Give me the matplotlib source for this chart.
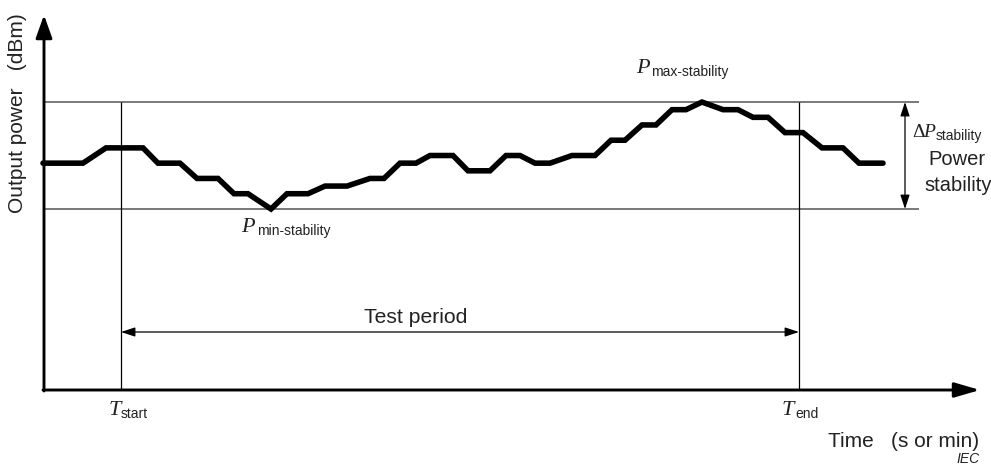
import matplotlib
matplotlib.use("Agg")
import matplotlib.pyplot as plt
import matplotlib.transforms as mtransforms

plt.rcParams["font.family"] = "Liberation Sans"

W, H = 991, 465
INK = "#222222"
SERIF = "Liberation Serif"

# ── schematic data ─────────────────────────────────────────────────────
# time position of each vertex (figure units) and power level (steps)
time = [43, 83, 106, 143, 158, 180, 197, 218, 234, 248,
        271, 287, 308, 325, 347, 370, 384, 400, 416, 430,
        453, 468, 490, 506, 520, 535, 550, 572, 595, 611,
        625, 642, 656, 672, 686, 702, 723, 738, 753, 768,
        785, 803, 822, 843, 859, 883]
power = [6, 6, 8, 8, 6, 6, 4, 4, 2, 2,
         0, 2, 2, 3, 3, 4, 4, 6, 6, 7,
         7, 5, 5, 7, 7, 6, 6, 7, 7, 9,
         9, 11, 11, 13, 13, 14, 13, 13, 12, 12,
         10, 10, 8, 8, 6, 6]
t_start, t_end = 121, 799
p_min, p_max = min(power), max(power)

fig = plt.figure(figsize=(W / 100, H / 100), dpi=100)
ax = fig.add_axes([0, 0, 1, 1])
ax.set_xlim(0, W)
# one power step is ~7.64 px, level 0 sits at y=209 px from the top
ax.set_ylim((209 - H) / 7.64, 209 / 7.64)
ax.axis("off")

# image-pixel coordinates (origin top-left) for annotations
pix = mtransforms.Affine2D().scale(1, -1).translate(0, H)
axis_lvl = (209 - 390) / 7.64

# reference lines
ax.hlines([p_min, p_max], 44, 919, color="#555555", lw=1.1)
ax.vlines([t_start, t_end], axis_lvl, p_max, color="k", lw=0.9)

# power trace
ax.plot(time, power, color="k", lw=4.0, solid_joinstyle="miter",
        solid_capstyle="round")

# axes with arrows
ax.annotate("", xy=(44, 15), xytext=(44, 391), xycoords=pix, textcoords=pix,
            arrowprops=dict(arrowstyle="-|>,head_length=1.4,head_width=0.5",
                            lw=2.1, color="k", shrinkA=0, shrinkB=0,
                            mutation_scale=10))
ax.annotate("", xy=(980, 390), xytext=(43, 390), xycoords=pix, textcoords=pix,
            arrowprops=dict(arrowstyle="-|>,head_length=1.55,head_width=0.45",
                            lw=2.1, color="k", shrinkA=0, shrinkB=0,
                            mutation_scale=10))

# test period arrow
ax.annotate("", xy=(t_end, axis_lvl + (390 - 332) / 7.64),
            xytext=(t_start, axis_lvl + (390 - 332) / 7.64),
            arrowprops=dict(arrowstyle="<|-|>,head_length=0.85,head_width=0.28",
                            lw=0.9, color="k", shrinkA=0, shrinkB=0,
                            mutation_scale=10))
# stability arrow
ax.annotate("", xy=(905, p_max), xytext=(905, p_min),
            arrowprops=dict(arrowstyle="<|-|>,head_length=0.85,head_width=0.28",
                            lw=0.9, color="k", shrinkA=0, shrinkB=0,
                            mutation_scale=10))

# labels
ax.text(18, 113, "Output power   (dBm)", transform=pix, rotation=90,
        ha="center", va="center", fontsize=15, color=INK)
ax.text(415.5, 323, "Test period", transform=pix, ha="center",
        va="baseline", fontsize=15.2, color=INK)
ax.text(828, 447, "Time   (s or min)", transform=pix, ha="left",
        va="baseline", fontsize=15, color=INK)
ax.text(980, 463, "IEC", transform=pix, ha="right", va="baseline",
        fontsize=10, style="italic", color=INK)

ax.text(957, 165, "Power", transform=pix, ha="center", va="baseline",
        fontsize=14.5, color=INK)
ax.text(958, 191, "stability", transform=pix, ha="center", va="baseline",
        fontsize=14.5, color=INK)


def sym_label(x_main, y_main, main, x_sub, sub, size=16):
    ax.text(x_main, y_main, main, transform=pix, ha="left", va="baseline",
            fontsize=size, family=SERIF, style="italic", color=INK)
    ax.text(x_sub, y_main + 3, sub, transform=pix, ha="left", va="baseline",
            fontsize=10, color=INK)


sym_label(636, 73, "P", 651, "max-stability")
sym_label(241, 232, "P", 257, "min-stability")
sym_label(109, 415, "T", 121, "start")
sym_label(782, 415, "T", 795, "end")
ax.text(912, 137, "\u0394", transform=pix, ha="left", va="baseline",
        fontsize=14, family=SERIF, color=INK)
sym_label(923.5, 137, "P", 936, "stability", size=14)

fig.savefig("out.png", dpi=100)
